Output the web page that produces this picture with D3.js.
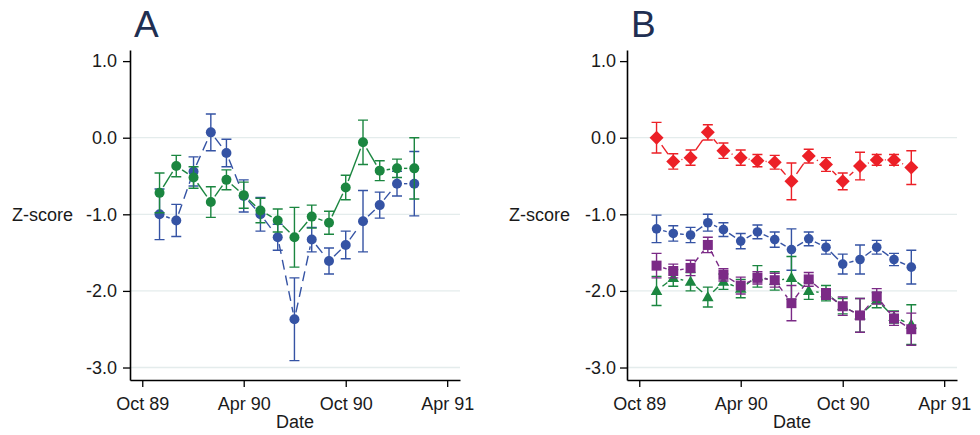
<!DOCTYPE html>
<html>
<head>
<meta charset="utf-8">
<script src="https://cdn.jsdelivr.net/npm/d3@7"></script>
<style>
  html, body { margin: 0; padding: 0; background: #ffffff; }
  svg { display: block; font-family: "Liberation Sans", Arial, sans-serif; }
</style>
</head>
<body>
<svg id="chart" width="980" height="435"></svg>
<script>
// Monthly survey waves, Nov 1989 – Feb 1991
const months = ["1989-11", "1989-12", "1990-01", "1990-02", "1990-03", "1990-04",
                "1990-05", "1990-06", "1990-07", "1990-08", "1990-09", "1990-10",
                "1990-11", "1990-12", "1991-01", "1991-02"];

// Panel A
const aBlue     = [-1.00, -1.08, -0.44, 0.07, -0.20, -0.76, -1.00, -1.30, -2.37, -1.33, -1.61, -1.40, -1.09, -0.88, -0.60, -0.60];
const aBlueErr  = [0.33, 0.21, 0.19, 0.24, 0.18, 0.21, 0.22, 0.17, 0.54, 0.16, 0.17, 0.18, 0.40, 0.17, 0.16, 0.42];
const aGreen    = [-0.72, -0.37, -0.52, -0.84, -0.55, -0.75, -0.95, -1.08, -1.30, -1.03, -1.11, -0.65, -0.06, -0.43, -0.40, -0.40];
const aGreenErr = [0.26, 0.14, 0.14, 0.20, 0.13, 0.17, 0.16, 0.15, 0.39, 0.15, 0.15, 0.16, 0.29, 0.13, 0.12, 0.40];

// Panel B
const bRed       = [0.00, -0.31, -0.26, 0.07, -0.17, -0.26, -0.30, -0.32, -0.57, -0.24, -0.35, -0.57, -0.37, -0.29, -0.29, -0.39];
const bRedErr    = [0.20, 0.10, 0.10, 0.10, 0.10, 0.10, 0.08, 0.09, 0.24, 0.09, 0.09, 0.11, 0.18, 0.07, 0.07, 0.22];
const bBlue      = [-1.19, -1.25, -1.27, -1.11, -1.20, -1.35, -1.23, -1.33, -1.46, -1.32, -1.43, -1.65, -1.59, -1.43, -1.59, -1.69];
const bBlueErr   = [0.18, 0.10, 0.10, 0.11, 0.09, 0.10, 0.09, 0.10, 0.27, 0.09, 0.09, 0.13, 0.19, 0.09, 0.08, 0.22];
const bGreen     = [-2.00, -1.83, -1.88, -2.08, -1.88, -1.97, -1.81, -1.87, -1.83, -2.00, -2.03, -2.20, -2.32, -2.12, -2.34, -2.44];
const bGreenErr  = [0.19, 0.11, 0.12, 0.13, 0.10, 0.12, 0.14, 0.12, 0.28, 0.11, 0.10, 0.10, 0.22, 0.10, 0.08, 0.26];
const bPurple    = [-1.67, -1.74, -1.70, -1.40, -1.79, -1.93, -1.83, -1.86, -2.16, -1.85, -2.04, -2.20, -2.32, -2.07, -2.36, -2.50];
const bPurpleErr = [0.16, 0.09, 0.10, 0.10, 0.08, 0.11, 0.08, 0.09, 0.23, 0.09, 0.07, 0.12, 0.22, 0.10, 0.09, 0.21];

// Axis ticks
const xTickDates  = ["1989-10", "1990-04", "1990-10", "1991-04"];
const xTickLabels = ["Oct 89", "Apr 90", "Oct 90", "Apr 91"];
const yTickValues = [1, 0, -1, -2, -3];
const yTickLabels = ["1.0", "0.0", "-1.0", "-2.0", "-3.0"];

const parseMonth = d3.utcParse("%Y-%m");
const dates = months.map(parseMonth);

const COLORS = { blue: "#3553a4", green: "#1b8640", red: "#ec2027", purple: "#7b2a86" };

const svg = d3.select("#chart");
const plotTop = 50, plotBottom = 380, plotWidth = 330;

const y = d3.scaleLinear().domain([-3.163, 1.145]).range([plotBottom, plotTop]);

// Marker path generators centred on the origin
const shapes = {
  circle: r => `M${-r},0A${r},${r} 0 1,0 ${r},0A${r},${r} 0 1,0 ${-r},0Z`,
  diamond: r => `M0,${-r}L${r},0L0,${r}L${-r},0Z`,
  square: r => `M${-r},${-r}H${r}V${r}H${-r}Z`,
  triangle: r => `M0,${-r * 1.1}L${r * 1.05},${r * 0.75}L${-r * 1.05},${r * 0.75}Z`
};

function drawPanel(left, title, yLabelRight, yLabelPad, series) {
  const g = svg.append("g");
  const x = d3.scaleUtc()
    .domain([new Date(Date.UTC(1989, 8, 9)), new Date(Date.UTC(1991, 3, 24))])
    .range([left, left + plotWidth]);

  // Horizontal gridlines
  g.append("g").selectAll("line")
    .data(yTickValues.filter(v => v !== 1))
    .join("line")
    .attr("x1", left).attr("x2", left + plotWidth)
    .attr("y1", d => y(d)).attr("y2", d => y(d))
    .attr("stroke", "#e4ecec").attr("stroke-width", 1.3);

  // Y axis
  const yAxis = d3.axisLeft(y)
    .tickValues(yTickValues)
    .tickFormat((d, i) => yTickLabels[i])
    .tickSize(7).tickPadding(yLabelPad)
    .tickSizeOuter(0);
  const ya = g.append("g").attr("transform", `translate(${left},0)`).call(yAxis);
  ya.select(".domain").attr("stroke", "#000").attr("stroke-width", 1.6);
  ya.selectAll(".tick line").attr("stroke", "#000").attr("stroke-width", 1.3);
  ya.selectAll(".tick text").attr("font-size", 18).attr("fill", "#1a1a1a")
    .attr("font-family", "Liberation Sans, Arial, sans-serif");

  // X axis
  const xAxis = d3.axisBottom(x)
    .tickValues(xTickDates.map(parseMonth))
    .tickFormat((d, i) => xTickLabels[i])
    .tickSize(7).tickPadding(10)
    .tickSizeOuter(0);
  const xa = g.append("g").attr("transform", `translate(0,${plotBottom})`).call(xAxis);
  xa.select(".domain").attr("stroke", "#000").attr("stroke-width", 1.6);
  xa.selectAll(".tick line").attr("stroke", "#000").attr("stroke-width", 1.3);
  xa.selectAll(".tick text").attr("font-size", 18).attr("fill", "#1a1a1a")
    .attr("font-family", "Liberation Sans, Arial, sans-serif");

  // Axis titles
  g.append("text")
    .attr("x", left + plotWidth / 2).attr("y", 428)
    .attr("text-anchor", "middle").attr("font-size", 18).attr("fill", "#1a1a1a")
    .text("Date");
  g.append("text")
    .attr("x", yLabelRight).attr("y", (plotTop + plotBottom) / 2 + 6)
    .attr("text-anchor", "end").attr("font-size", 18).attr("fill", "#1a1a1a")
    .text("Z-score");

  // Panel letter
  g.append("text")
    .attr("x", left + 4).attr("y", 37)
    .attr("font-size", 37).attr("fill", "#1f2f52")
    .text(title);

  series.forEach(s => {
    const pts = dates.map((d, i) => ({ date: d, value: s.values[i], err: s.errors[i] }));
    const sg = g.append("g");

    // Connecting segments, each trimmed back a little from the markers
    const gap = s.size + 2;
    const segs = d3.pairs(pts).map(([a, b]) => {
      const x1 = x(a.date), y1 = y(a.value), x2 = x(b.date), y2 = y(b.value);
      const len = Math.hypot(x2 - x1, y2 - y1);
      const ux = (x2 - x1) / len, uy = (y2 - y1) / len;
      const g2 = Math.min(gap, len / 2 - 0.5);
      return `M${x1 + ux * g2},${y1 + uy * g2}L${x2 - ux * g2},${y2 - uy * g2}`;
    });
    sg.append("g").selectAll("path")
      .data(segs)
      .join("path")
      .attr("d", d => d)
      .attr("fill", "none")
      .attr("stroke", s.color).attr("stroke-width", 1.4)
      .attr("stroke-dasharray", s.dash || null);

    // Error bars (+/- error) with caps
    const eb = sg.append("g").attr("stroke", s.color).attr("stroke-width", 1.4).attr("fill", "none");
    eb.selectAll("path")
      .data(pts)
      .join("path")
      .attr("d", d => {
        const cx = x(d.date), y1 = y(d.value + d.err), y2 = y(d.value - d.err), w = 5;
        return `M${cx},${y1}V${y2}M${cx - w},${y1}H${cx + w}M${cx - w},${y2}H${cx + w}`;
      });

    // Markers
    sg.append("g").selectAll("path")
      .data(pts)
      .join("path")
      .attr("transform", d => `translate(${x(d.date)},${y(d.value)})`)
      .attr("d", shapes[s.shape](s.size))
      .attr("fill", s.color);
  });
}

drawPanel(130, "A", 73, 6, [
  { values: aBlue, errors: aBlueErr, color: COLORS.blue, shape: "circle", size: 5, dash: "10,6" },
  { values: aGreen, errors: aGreenErr, color: COLORS.green, shape: "circle", size: 5 }
]);

drawPanel(627, "B", 570, 4, [
  { values: bRed, errors: bRedErr, color: COLORS.red, shape: "diamond", size: 7 },
  { values: bBlue, errors: bBlueErr, color: COLORS.blue, shape: "circle", size: 4.8 },
  { values: bGreen, errors: bGreenErr, color: COLORS.green, shape: "triangle", size: 5.5 },
  { values: bPurple, errors: bPurpleErr, color: COLORS.purple, shape: "square", size: 5, dash: "6,5" }
]);
</script>
</body>
</html>
